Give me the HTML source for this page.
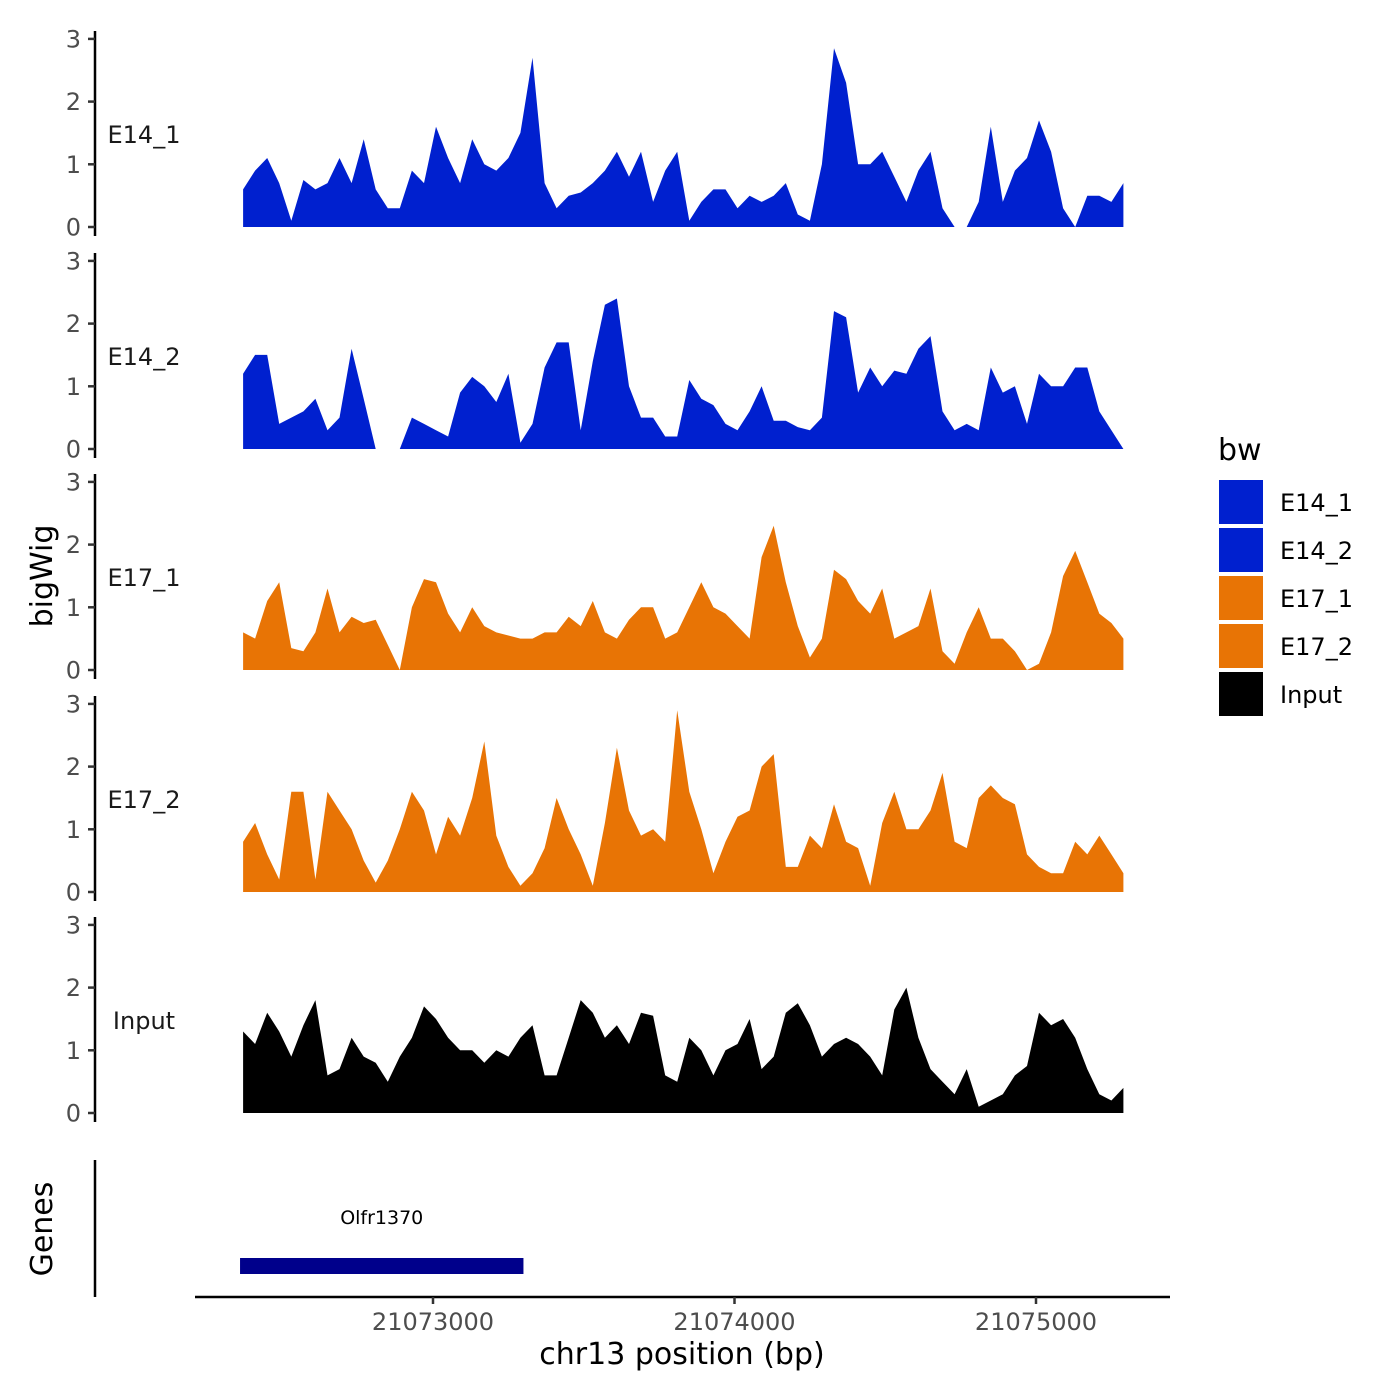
<!DOCTYPE html>
<html><head><meta charset="utf-8"><style>
html,body{margin:0;padding:0;background:#fff;}
svg{display:block;font-family:"DejaVu Sans","Liberation Sans",sans-serif;}
</style></head><body>
<svg id="chart" width="1400" height="1400" viewBox="0 0 1400 1400"></svg>
<script>
const trackNames = ["E14_1","E14_2","E17_1","E17_2","Input"];
const trackColors = ["#0020CF","#0020CF","#E87405","#E87405","#000000"];
const startBp = 21072370;
const stepBp = 40;
const e14_1 = [0.6,0.9,1.1,0.7,0.1,0.75,0.6,0.7,1.1,0.7,1.4,0.6,0.3,0.3,0.9,0.7,1.6,1.1,0.7,1.4,1.0,0.9,1.1,1.5,2.7,0.7,0.3,0.5,0.55,0.7,0.9,1.2,0.8,1.2,0.4,0.9,1.2,0.1,0.4,0.6,0.6,0.3,0.5,0.4,0.5,0.7,0.2,0.1,1.0,2.85,2.3,1.0,1.0,1.2,0.8,0.4,0.9,1.2,0.3,0,0,0.4,1.6,0.4,0.9,1.1,1.7,1.2,0.3,0,0.5,0.5,0.4,0.7];
const e14_2 = [1.2,1.5,1.5,0.4,0.5,0.6,0.8,0.3,0.5,1.6,0.8,0,0,0,0.5,0.4,0.3,0.2,0.9,1.15,1.0,0.75,1.2,0.1,0.4,1.3,1.7,1.7,0.3,1.4,2.3,2.4,1.0,0.5,0.5,0.2,0.2,1.1,0.8,0.7,0.4,0.3,0.6,1.0,0.45,0.45,0.35,0.3,0.5,2.2,2.1,0.9,1.3,1.0,1.25,1.2,1.6,1.8,0.6,0.3,0.4,0.3,1.3,0.9,1.0,0.4,1.2,1.0,1.0,1.3,1.3,0.6,0.3,0.0];
const e17_1 = [0.6,0.5,1.1,1.4,0.35,0.3,0.6,1.3,0.6,0.85,0.75,0.8,0.4,0,1.0,1.45,1.4,0.9,0.6,1.0,0.7,0.6,0.55,0.5,0.5,0.6,0.6,0.85,0.7,1.1,0.6,0.5,0.8,1.0,1.0,0.5,0.6,1.0,1.4,1.0,0.9,0.7,0.5,1.8,2.3,1.4,0.7,0.2,0.5,1.6,1.45,1.1,0.9,1.3,0.5,0.6,0.7,1.3,0.3,0.1,0.6,1.0,0.5,0.5,0.3,0,0.1,0.6,1.5,1.9,1.4,0.9,0.75,0.5];
const e17_2 = [0.8,1.1,0.6,0.2,1.6,1.6,0.2,1.6,1.3,1.0,0.5,0.15,0.5,1.0,1.6,1.3,0.6,1.2,0.9,1.5,2.4,0.9,0.4,0.1,0.3,0.7,1.5,1.0,0.6,0.1,1.1,2.3,1.3,0.9,1.0,0.8,2.9,1.6,1.0,0.3,0.8,1.2,1.3,2.0,2.2,0.4,0.4,0.9,0.7,1.4,0.8,0.7,0.1,1.1,1.6,1.0,1.0,1.3,1.9,0.8,0.7,1.5,1.7,1.5,1.4,0.6,0.4,0.3,0.3,0.8,0.6,0.9,0.6,0.3];
const input = [1.3,1.1,1.6,1.3,0.9,1.4,1.8,0.6,0.7,1.2,0.9,0.8,0.5,0.9,1.2,1.7,1.5,1.2,1.0,1.0,0.8,1.0,0.9,1.2,1.4,0.6,0.6,1.2,1.8,1.6,1.2,1.4,1.1,1.6,1.55,0.6,0.5,1.2,1.0,0.6,1.0,1.1,1.5,0.7,0.9,1.6,1.75,1.4,0.9,1.1,1.2,1.1,0.9,0.6,1.65,2.0,1.2,0.7,0.5,0.3,0.7,0.1,0.2,0.3,0.6,0.75,1.6,1.4,1.5,1.2,0.7,0.3,0.2,0.4];
const seriesValues = [e14_1,e14_2,e17_1,e17_2,input];
const yTicks = [0,1,2,3];
const xTicks = [21073000,21074000,21075000];
const geneName = "Olfr1370";
const geneStart = 21072360;
const geneEnd = 21073300;

const NS = "http://www.w3.org/2000/svg";
const svg = document.getElementById("chart");
function mk(tag, attrs, parent){const e=document.createElementNS(NS,tag);for(const k in attrs)e.setAttribute(k,attrs[k]);(parent||svg).appendChild(e);return e;}
function xs(bp){return 433 + (bp-21073000)*0.3015;}
const baseY = [227,449,670,892,1113];
const unit = 62.7;
function ys(t,v){return baseY[t]-v*unit;}

trackNames.forEach((name,t)=>{
  const g = mk("g",{});
  
  
  const ax = mk("line",{x1:95,x2:95,y1:baseY[t]-196,y2:baseY[t]+9,stroke:"#000","stroke-width":2.5},g);
  
  
  yTicks.forEach(v=>{
    const y = ys(t,v);
    mk("line",{x1:88,x2:95,y1:y,y2:y,stroke:"#333","stroke-width":2.5},g);
    const tx = mk("text",{x:81,y:y+8.5,"text-anchor":"end","font-size":24,fill:"#4d4d4d"},g);
    tx.textContent = v;
    
    
  });
  const lab = mk("text",{x:144,y:baseY[t]-84,"text-anchor":"middle","font-size":24,fill:"#1a1a1a"},g);
  lab.textContent = name;
  
  
  const vals = seriesValues[t];
  let d = "", seg = [];
  const flush = ()=>{
    if(seg.length){
      d += "M"+seg[0][0].toFixed(1)+","+baseY[t];
      seg.forEach(p=>{d+="L"+p[0].toFixed(1)+","+p[1].toFixed(1);});
      d += "L"+seg[seg.length-1][0].toFixed(1)+","+baseY[t]+"Z";
    }
    seg=[];
  };
  vals.forEach((v,i)=>{
    if(v===null){flush();return;}
    seg.push([xs(startBp+i*stepBp), ys(t,v)]);
  });
  flush();
  const area = mk("path",{d:d,fill:trackColors[t]},g);
  
  
});

const yt = mk("text",{x:0,y:0,"font-size":30,"text-anchor":"middle",transform:"translate(52,576) rotate(-90)"});
yt.textContent="bigWig";



const ga = mk("line",{x1:95,x2:95,y1:1160,y2:1297,stroke:"#000","stroke-width":2.5});


const gt = mk("text",{x:0,y:0,"font-size":30,"text-anchor":"middle",transform:"translate(52,1229) rotate(-90)"});
gt.textContent="Genes";


const gb = mk("rect",{x:xs(geneStart),y:1258,width:xs(geneEnd)-xs(geneStart),height:16,fill:"#00008B"});


const gl = mk("text",{x:(xs(geneStart)+xs(geneEnd))/2,y:1224,"font-size":19,"text-anchor":"middle"});
gl.textContent=geneName;



const xa = mk("line",{x1:195,x2:1170,y1:1297,y2:1297,stroke:"#000","stroke-width":2.5});


xTicks.forEach(v=>{
  const x = xs(v);
  mk("line",{x1:x,x2:x,y1:1297,y2:1304,stroke:"#333","stroke-width":2.5});
  const t = mk("text",{x:x,y:1330,"text-anchor":"middle","font-size":24,fill:"#4d4d4d"});
  t.textContent = v;
  
  
});
const xt = mk("text",{x:682,y:1364,"text-anchor":"middle","font-size":30});
xt.textContent="chr13 position (bp)";



const lt = mk("text",{x:1218,y:460,"font-size":30});
lt.textContent="bw";


trackNames.forEach((name,i)=>{
  const y = 480+i*48;
  const k = mk("rect",{x:1219,y:y,width:44,height:44,fill:trackColors[i]});
  
  
  const lx = mk("text",{x:1280,y:y+31,"font-size":24});
  lx.textContent=name;
  
  
});
</script>
</body></html>
